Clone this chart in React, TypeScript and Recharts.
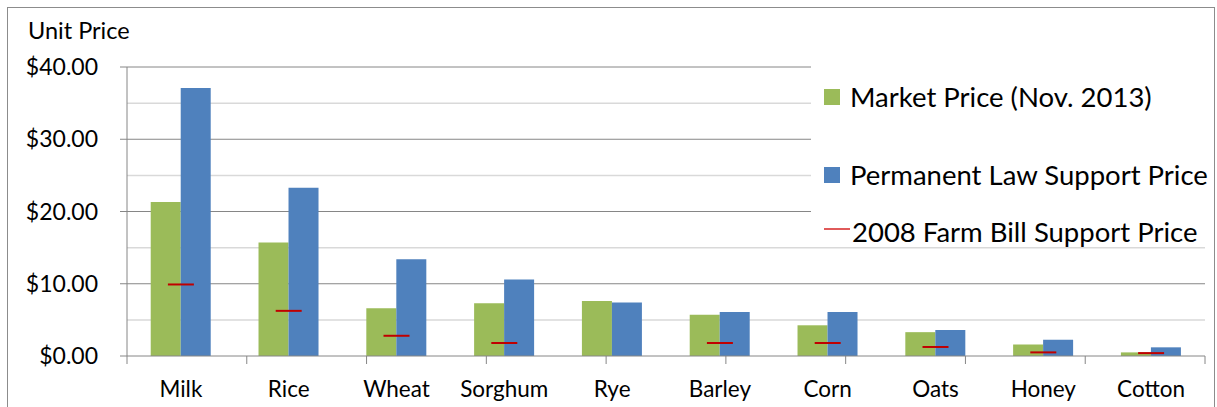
import React from 'react';
import {
  ComposedChart,
  Bar,
  Line,
  XAxis,
  YAxis,
  CartesianGrid,
} from 'recharts';

const categories = ['Milk', 'Rice', 'Wheat', 'Sorghum', 'Rye', 'Barley', 'Corn', 'Oats', 'Honey', 'Cotton'];
const marketPrice = [21.3, 15.7, 6.6, 7.3, 7.6, 5.7, 4.25, 3.3, 1.6, 0.5];
const permanentPrice = [37.1, 23.3, 13.4, 10.6, 7.4, 6.1, 6.1, 3.6, 2.25, 1.2];
const farmBillPrice: (number | null)[] = [9.9, 6.25, 2.8, 1.8, null, 1.8, 1.8, 1.25, 0.5, 0.4];
const yTicks = [0, 10, 20, 30, 40];
const minorGrid = [5, 15, 25, 35];
const majorGrid = [10, 20, 30, 40];
const boundaryTicks = [0, 1, 2, 3, 4, 5, 6, 7, 8, 9, 10];

const legendItems = [
  { name: 'Market Price (Nov. 2013)', color: '#9BBB59', kind: 'box' },
  { name: 'Permanent Law Support Price', color: '#4F81BD', kind: 'box' },
  { name: '2008 Farm Bill Support Price', color: '#E05A5A', kind: 'line' },
];

const data = categories.map((name, i) => ({
  name,
  market: marketPrice[i],
  permanent: permanentPrice[i],
  bill: farmBillPrice[i],
}));

const FONT = 'Lato, "DejaVu Sans", sans-serif';

// short red dash at each 2008 support price
const Dash = (props: any) => {
  const { cx, cy, value } = props;
  if (value == null || cx == null || cy == null) return null;
  return <line x1={cx - 13} x2={cx + 13} y1={cy} y2={cy} stroke="#C00000" strokeWidth={2} />;
};

const LegendBox = () => (
  <div
    style={{
      position: 'absolute',
      left: 811,
      top: 66,
      width: 394,
      height: 180,
      background: '#fff',
      fontFamily: FONT,
    }}
  >
    {legendItems.map((item, i) => {
      const tops = [16, 94, 151];
      return (
        <div
          key={item.name}
          style={{ position: 'absolute', left: 13, top: tops[i], display: 'flex', alignItems: 'center', whiteSpace: 'nowrap' }}
        >
          {item.kind === 'box' ? (
            <span style={{ width: 16, height: 16, background: item.color, display: 'inline-block', marginRight: 10 }} />
          ) : (
            <span
              style={{ width: 26, height: 1.5, background: item.color, display: 'inline-block', marginRight: 2, marginTop: -6 }}
            />
          )}
          <span style={{ fontSize: 27.5, color: '#000', lineHeight: '30px' }}>{item.name}</span>
        </div>
      );
    })}
  </div>
);

export default function App() {
  return (
    <div style={{ position: 'relative', width: 1217, height: 407, overflow: 'hidden', background: '#fff' }}>
      <style>{'body{margin:0}'}</style>
      <div
        style={{
          position: 'absolute',
          left: 7,
          top: 7,
          width: 1208,
          height: 440,
          border: '1px solid #8c8c8c',
          boxSizing: 'border-box',
        }}
      />
      <ComposedChart
        width={1217}
        height={407}
        data={data}
        margin={{ top: 67, right: 12, left: 0, bottom: 0 }}
        barCategoryGap="22%"
        barGap={0}
        style={{ position: 'absolute', left: 0, top: 0, fontFamily: FONT }}
      >
        <CartesianGrid xAxisId="cat" vertical={false} horizontalValues={minorGrid} stroke="#D9D9D9" strokeWidth={1.5} />
        <CartesianGrid xAxisId="cat" vertical={false} horizontalValues={majorGrid} stroke="#868686" strokeWidth={1} />
        <XAxis
          type="number"
          domain={[0, 10]}
          ticks={boundaryTicks}
          height={1}
          axisLine={{ stroke: '#868686' }}
          tickLine={{ stroke: '#868686' }}
          tickSize={8}
          tickFormatter={() => ''}
          interval={0}
        />
        <XAxis
          xAxisId="cat"
          dataKey="name"
          height={50}
          axisLine={false}
          tickLine={false}
          tickSize={0}
          tickMargin={24}
          interval={0}
          tick={{ fill: '#000', fontSize: 22.5 }}
        />
        <YAxis
          width={127}
          domain={[0, 40]}
          ticks={yTicks}
          tickFormatter={(v: number) => `$${v.toFixed(2)}`}
          axisLine={{ stroke: '#868686' }}
          tickLine={{ stroke: '#868686' }}
          tickSize={7}
          tickMargin={22}
          tick={{ fill: '#000', fontSize: 23 }}
        />
        <Bar xAxisId="cat" dataKey="market" name="Market Price (Nov. 2013)" fill="#9BBB59" isAnimationActive={false} />
        <Bar xAxisId="cat" dataKey="permanent" name="Permanent Law Support Price" fill="#4F81BD" isAnimationActive={false} />
        <Line
          xAxisId="cat"
          dataKey="bill"
          name="2008 Farm Bill Support Price"
          stroke="none"
          dot={<Dash />}
          activeDot={false}
          connectNulls={false}
          isAnimationActive={false}
        />
      </ComposedChart>
      <LegendBox />
      <div style={{ position: 'absolute', left: 28, top: 16, fontFamily: FONT, fontSize: 23.5, color: '#000' }}>Unit Price</div>
    </div>
  );
}
